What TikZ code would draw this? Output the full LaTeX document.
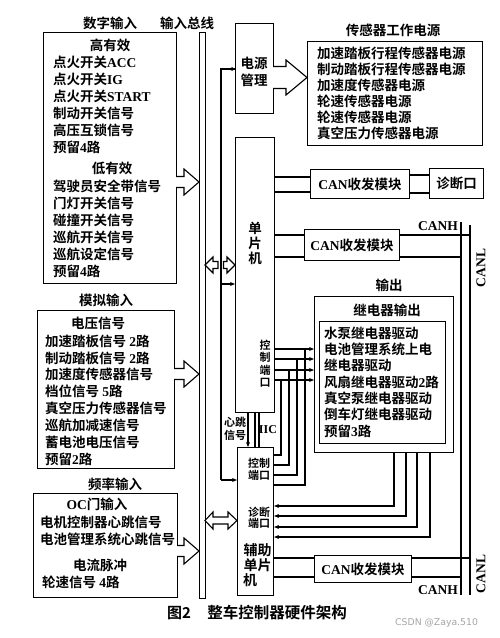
\documentclass[tikz,border=0pt]{standalone}
\usepackage{fontspec}
\newfontfamily\cjk{Noto Sans CJK SC}[BoldFont={Noto Sans CJK SC Bold}]
\newfontfamily\latf{Liberation Serif}
\newfontfamily\wmf{DejaVu Sans}
\newcommand\ltn[1]{{\latf\bfseries #1}}
\usetikzlibrary{arrows.meta}
\begin{document}
\begin{tikzpicture}[x=1pt,y=-1pt,
 box/.style={draw, line width=1.1pt, inner sep=0, anchor=north west},
 wire/.style={line width=1.1pt},
 arr/.style={wire, -{Stealth[length=5pt,width=4pt]}},
 big/.style={font=\cjk\bfseries\fontsize{13.5}{16}\selectfont, inner sep=0, text height=11pt, text depth=1pt},
 sml/.style={font=\cjk\bfseries\fontsize{11}{13}\selectfont, inner sep=0, text height=9pt, text depth=1pt},
 lat/.style={font=\latf\bfseries\fontsize{13.5}{15}\selectfont, inner sep=0},
 hol/.style={draw, line width=1.1pt, fill=white, line join=miter}
]
\useasboundingbox[fill=white] (0,0) rectangle (499,638);

% ---------- boxes ----------
\node[box, minimum width=133pt, minimum height=251pt] (dig) at (43,32) {};
\node[box, minimum width=137pt, minimum height=158pt] (ana) at (37,310) {};
\node[box, minimum width=144pt, minimum height=104pt] (frq) at (33,493) {};
\node[box, minimum width=6pt, minimum height=566pt] (bus) at (199,32) {};
\node[box, minimum width=38pt, minimum height=90pt] (pwr) at (235,23) {};
\node[box, minimum width=175pt, minimum height=104pt] (sen) at (307,41) {};
\node[box, minimum width=39pt, minimum height=275pt] (mcu) at (235,137) {};
\node[box, minimum width=99pt, minimum height=29pt] (can1) at (310,169) {};
\node[box, minimum width=54pt, minimum height=30pt] (diag) at (429,168) {};
\node[box, minimum width=95pt, minimum height=31pt] (can2) at (304,229) {};
\node[box, minimum width=139pt, minimum height=156pt] (rly) at (314,296) {};
\node[box, minimum width=126pt, minimum height=122pt] (rlyin) at (319,321) {};
\node[box, minimum width=36pt, minimum height=148pt] (aux) at (237,447) {};
\node[box, minimum width=97pt, minimum height=27pt] (can3) at (314,555) {};

% ---------- labels above boxes ----------
\node[big] (tdig) at (110,23) {数字输入};
\node[big] (tbus) at (187,23) {输入总线};
\node[big] (tana) at (106,300) {模拟输入};
\node[big] (tfrq) at (115,484) {频率输入};
\node[big] (tsen) at (393,30) {传感器工作电源};
\node[big] (tout) at (389,285) {输出};

% ---------- digital input ----------
\node[big] (hi) at (110,45) {高有效};
\foreach \t [count=\i] in {点火开关\ltn{ACC}, 点火开关\ltn{IG}, 点火开关\ltn{START}, 制动开关信号, 高压互锁信号, 预留\ltn{4}路}
  \node[big, anchor=west] (dh\i) at (53,{45+17*\i}) {\t};
\node[big] (lo) at (112,168) {低有效};
\foreach \t [count=\i] in {驾驶员安全带信号, 门灯开关信号, 碰撞开关信号, 巡航开关信号, 巡航设定信号, 预留\ltn{4}路}
  \node[big, anchor=west] (dl\i) at (53,{169+17*\i}) {\t};

% ---------- analog input ----------
\node[big] (volt) at (98,323) {电压信号};
\foreach \t [count=\i] in {加速踏板信号 \ltn{2}路, 制动踏板信号 \ltn{2}路, 加速度传感器信号, 档位信号 \ltn{5}路, 真空压力传感器信号, 巡航加减速信号, 蓄电池电压信号, 预留\ltn{2}路}
  \node[big, anchor=west] (a\i) at (45,{324.2+16.9*\i}) {\t};

% ---------- frequency input ----------
\node[big] (oc) at (97,504) {\ltn{OC}门输入};
\node[big, anchor=west] (f1) at (40,522) {电机控制器心跳信号};
\node[big, anchor=west] (f2) at (40,539) {电池管理系统心跳信号};
\node[big] (pulse) at (100,565) {电流脉冲};
\node[big, anchor=west] (f3) at (42,582) {轮速信号 \ltn{4}路};

% ---------- sensor power ----------
\foreach \t [count=\i] in {加速踏板行程传感器电源, 制动踏板行程传感器电源, 加速度传感器电源, 轮速传感器电源, 轮速传感器电源, 真空压力传感器电源}
  \node[big, anchor=west] (s\i) at (317,{37+16*\i}) {\t};

% ---------- relay output ----------
\node[big] (trly) at (387,310) {继电器输出};
\foreach \t [count=\i] in {水泵继电器驱动, 电池管理系统上电, 继电器驱动, 风扇继电器驱动\ltn{2}路, 真空泵继电器驱动, 倒车灯继电器驱动, 预留\ltn{3}路}
  \node[big, anchor=west] (r\i) at (324,{317+16.3*\i}) {\t};

% ---------- power management / MCU texts ----------
\node[big] (pw1) at (254,63) {电源};
\node[big] (pw2) at (254,80) {管理};
\node[big] (m1) at (255,228) {单};
\node[big] (m2) at (255,243) {片};
\node[big] (m3) at (255,258) {机};
\foreach \t [count=\i] in {控, 制, 端, 口}
  \node[sml] (cp\i) at (265,{332.5+12.6*\i}) {\t};
\node[sml] (hb1) at (235,422) {心跳};
\node[sml] (hb2) at (235,435) {信号};
\node[lat, font=\latf\bfseries\fontsize{12}{14}\selectfont] (iic) at (268,430) {IIC};
\node[sml] (ax1) at (259,463) {控制};
\node[sml] (ax2) at (259,475) {端口};
\node[sml] (ax3) at (259,512) {诊断};
\node[sml] (ax4) at (259,523) {端口};
\node[big, font=\cjk\bfseries\fontsize{14}{16}\selectfont] (ax5) at (257.5,550) {辅助};
\node[big, font=\cjk\bfseries\fontsize{14}{16}\selectfont] (ax6) at (257.5,565) {单片};
\node[big, font=\cjk\bfseries\fontsize{14}{16}\selectfont, anchor=west] (ax7) at (243,580) {机};

% ---------- CAN modules ----------
\node[big] at (can1.center) {\ltn{CAN}收发模块};
\node[big] at (diag.center) {诊断口};
\node[big] at (can2.center) {\ltn{CAN}收发模块};
\node[big] at (can3.center) {\ltn{CAN}收发模块};

\draw[wire] (mcu.east |- 0,177) -- (can1.west |- 0,177);
\draw[wire] (mcu.east |- 0,192) -- (can1.west |- 0,192);
\draw[wire] (can1.east |- 0,175) -- (diag.west |- 0,175);
\draw[wire] (can1.east |- 0,193) -- (diag.west |- 0,193);

\coordinate (canhT) at (461,222);
\coordinate (canhB) at (461,595);
\coordinate (canlT) at (470,225);
\coordinate (canlB) at (470,595);
\draw[wire] (canhT) -- (canhB);
\draw[wire] (canlT) -- (canlB);
\draw[wire] (mcu.east |- 0,235) -- (can2.west |- 0,235);
\draw[wire] (mcu.east |- 0,257) -- (can2.west |- 0,257);
\draw[wire] (can2.east |- 0,235) -- (canlT |- 0,235);
\draw[wire] (can2.east |- 0,257) -- (canhT |- 0,257);
\draw[wire] (aux.east |- 0,558) -- (can3.west |- 0,558);
\draw[wire] (aux.east |- 0,577) -- (can3.west |- 0,577);
\draw[wire] (can3.east |- 0,558) -- (canlT |- 0,558);
\draw[wire] (can3.east |- 0,577) -- (canhT |- 0,577);
\node[lat, anchor=east] (canh1) at (458,226) {CANH};
\node[lat, anchor=east] (canh2) at (458,590) {CANH};
\node[lat, rotate=90] (canl1) at (481,268) {CANL};
\node[lat, rotate=90] (canl2) at (481,574) {CANL};

% ---------- control port lines ----------
\foreach \y/\x/\yy in {349/305/485, 359/297/475, 370/289/465, 380/281/455} {
  \draw[arr] (mcu.east |- 0,\y) -- (rly.west |- 0,\y);
  \draw[wire] (\x,\y) |- (aux.east |- 0,\yy);
}
% ---------- diagnostic lines ----------
\foreach \x/\y in {394/506, 406/516, 417/527, 430/537}
  \draw[arr] (rly.south -| \x,0) |- (aux.east |- 0,\y);

% ---------- heartbeat and IIC ----------
\draw[arr] (mcu.south -| 248,0) -- (aux.north -| 248,0);
\draw[wire] (mcu.south -| 255,0) -- (aux.north -| 255,0);
\draw[wire] (mcu.south -| 259,0) -- (aux.north -| 259,0);

% ---------- power wire ----------
\coordinate (pw) at (221,69);
\draw[wire] (pwr.west |- pw) -- (pw) -- (221,480);
\draw[wire, -{Stealth[length=5pt,width=4pt]}] (pwr.west |- pw) -- (228,69);
\draw[arr] (221,284) -- (mcu.west |- 0,284);
\draw[arr] (221,480) -- (aux.west |- 0,480);

% ---------- hollow arrows ----------
\draw[hol] (176,176.5) -- (184,176.5) -- (184,169) -- (199,182) -- (184,195) -- (184,187.5) -- (176,187.5);
\draw[hol] (174,368.5) -- (184,368.5) -- (184,361) -- (199,374) -- (184,387) -- (184,379.5) -- (174,379.5);
\draw[hol] (177,545.5) -- (184,545.5) -- (184,538) -- (199,551) -- (184,564) -- (184,556.5) -- (177,556.5);
\draw[hol] (273,66.5) -- (286,66.5) -- (286,60) -- (307,77.5) -- (286,95) -- (286,88.5) -- (273,88.5);
% double arrows
\draw[hol] (218,261.5) -- (213,261.5) -- (213,257) -- (205,265) -- (213,273) -- (213,268.5) -- (218,268.5) -- cycle;
\draw[hol] (223.5,261.5) -- (227,261.5) -- (227,257) -- (235,265) -- (227,273) -- (227,268.5) -- (223.5,268.5) -- cycle;
\draw[hol] (213,512) -- (205,520.5) -- (213,529) -- (213,524) -- (228,524) -- (228,529) -- (237,520.5) -- (228,512) -- (228,517) -- (213,517) -- cycle;

% ---------- caption ----------
\node[font=\cjk\bfseries\fontsize{15}{16}\selectfont, inner sep=0] (fig) at (179,613) {图2};
\node[font=\cjk\bfseries\fontsize{15.5}{16}\selectfont, inner sep=0] (cap) at (277,613) {整车控制器硬件架构};
\node[font=\wmf\fontsize{9.3}{11}\selectfont, text=black!35, inner sep=0, anchor=west] (wm) at (395,623) {CSDN @Zaya.510};
\end{tikzpicture}
\end{document}
